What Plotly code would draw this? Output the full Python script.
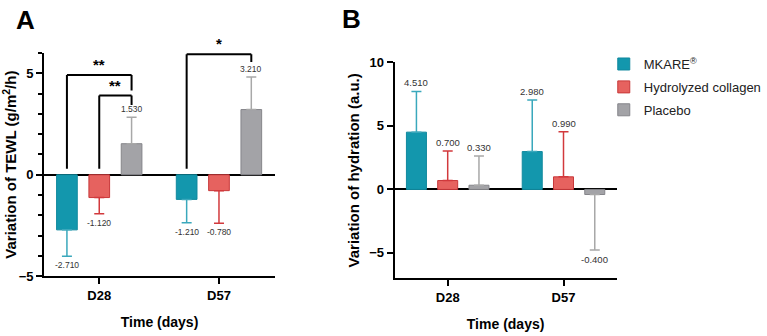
import plotly.graph_objects as go

# ---------------- data ----------------
categories = ["D28", "D57"]
series_names = ["MKARE<sup>®</sup>", "Hydrolyzed collagen", "Placebo"]

tewl_values = {
    "MKARE": [-2.71, -1.21],
    "Collagen": [-1.12, -0.78],
    "Placebo": [1.53, 3.21],
}
tewl_errors = {
    "MKARE": [1.30, 1.15],
    "Collagen": [0.80, 1.60],
    "Placebo": [1.30, 1.60],
}
hyd_values = {
    "MKARE": [4.51, 2.98],
    "Collagen": [0.70, 0.99],
    "Placebo": [0.33, -0.40],
}
hyd_errors = {
    "MKARE": [3.20, 4.07],
    "Collagen": [2.33, 3.56],
    "Placebo": [2.30, 4.37],
}
series_keys = ["MKARE", "Collagen", "Placebo"]

fill_colors = {"MKARE": "#1397ad", "Collagen": "#e6625f", "Placebo": "#a3a3a7"}
line_colors = {"MKARE": "#11899e", "Collagen": "#c8383a", "Placebo": "#85858a"}
err_colors = {"MKARE": "#3aa8bc", "Collagen": "#d2393c", "Placebo": "#a8a8a8"}

FONT = "Arial, Liberation Sans, sans-serif"
SLOT = 0.27  # offset between grouped bars in category units (bargap/bargroupgap)

fig = go.Figure()


def add_panel(values, errors, xa, ya, showlegend, label_size):
    for i, k in enumerate(series_keys):
        vals = values[k]
        errs = errors[k]
        plus = [e if v >= 0 else 0 for v, e in zip(vals, errs)]
        minus = [e if v < 0 else 0 for v, e in zip(vals, errs)]
        fig.add_trace(go.Bar(
            x=categories, y=vals, name=series_names[i], legendgroup=k,
            marker=dict(color=fill_colors[k], line=dict(color=line_colors[k], width=1)),
            error_y=dict(type="data", symmetric=False, array=plus, arrayminus=minus,
                         color=err_colors[k], thickness=1.5, width=5),
            xaxis=xa, yaxis=ya, showlegend=showlegend,
        ))
        for j, (v, e) in enumerate(zip(vals, errs)):
            xpos = j + (i - 1) * SLOT
            if v >= 0:
                fig.add_annotation(x=xpos, y=v + e, xref=xa, yref=ya, text=f"{v:.3f}",
                                   showarrow=False, yanchor="bottom", yshift=1,
                                   font=dict(family=FONT, size=label_size, color="#333333"))
            else:
                fig.add_annotation(x=xpos, y=v - e, xref=xa, yref=ya, text=f"{v:.3f}",
                                   showarrow=False, yanchor="top", yshift=-2,
                                   font=dict(family=FONT, size=label_size, color="#333333"))


add_panel(tewl_values, tewl_errors, "x", "y", True, 8.5)
add_panel(hyd_values, hyd_errors, "x2", "y2", False, 9.5)

# significance brackets (panel A): (group, from series, to series, top, left foot, right foot, text)
brackets = [
    (0, 0, 2, 4.91, 0.3, 4.15, "**"),
    (0, 1, 2, 3.90, 0.3, 3.44, "**"),
    (1, 0, 2, 5.93, 0.3, 5.55, "*"),
]
for g, s0, s1, top, lf, rf, txt in brackets:
    x0 = g + (s0 - 1) * SLOT
    x1 = g + (s1 - 1) * SLOT
    ln = dict(color="black", width=2)
    fig.add_shape(type="line", xref="x", yref="y", x0=x0, x1=x0, y0=lf, y1=top, line=ln)
    fig.add_shape(type="line", xref="x", yref="y", x0=x0, x1=x1, y0=top, y1=top, line=ln)
    fig.add_shape(type="line", xref="x", yref="y", x0=x1, x1=x1, y0=top, y1=rf, line=ln)
    fig.add_annotation(x=(x0 + x1) / 2, y=top, xref="x", yref="y", text=f"<b>{txt}</b>",
                       showarrow=False, yanchor="bottom", yshift=0,
                       font=dict(family=FONT, size=15, color="black"))

W, H = 767, 336

# panel letters
fig.add_annotation(x=14 / W, y=1 - 14 / H, xref="paper", yref="paper", text="<b>A</b>",
                   showarrow=False, xanchor="left", yanchor="middle",
                   font=dict(family=FONT, size=26, color="black"))
fig.add_annotation(x=346 / W, y=1 - 13 / H, xref="paper", yref="paper", text="<b>B</b>",
                   showarrow=False, xanchor="left", yanchor="middle",
                   font=dict(family=FONT, size=26, color="black"))

axis_common = dict(showline=True, linecolor="black", linewidth=2, ticks="outside",
                   tickwidth=2, ticklen=6, tickcolor="black", showgrid=False,
                   tickfont=dict(family=FONT, size=13, color="black", weight="bold"))

fig.update_layout(
    width=W, height=H, margin=dict(l=0, r=0, t=0, b=0),
    paper_bgcolor="white", plot_bgcolor="white",
    barmode="group", bargap=0.19, bargroupgap=0.36,
    font=dict(family=FONT, color="black"),
    legend=dict(x=615 / W, y=1 - 44 / H, xanchor="left", yanchor="top",
                font=dict(family=FONT, size=13, color="#222222"),
                bgcolor="rgba(0,0,0,0)", tracegroupgap=3),
    xaxis=dict(domain=[45 / W, 280 / W], anchor="y", range=[-0.46, 1.467],
               title=dict(text="<b>Time (days)</b>", font=dict(family=FONT, size=14), standoff=15),
               **axis_common),
    yaxis=dict(domain=[(H - 282) / H, (H - 48) / H], anchor="x", range=[-5, 6],
               tick0=0, dtick=5, zeroline=True, zerolinecolor="black", zerolinewidth=2,
               minor=dict(dtick=1, ticks="outside", ticklen=4, tickwidth=1.5, tickcolor="black"),
               title=dict(text="<b>Variation of TEWL (g/m<sup>2</sup>/h)</b>",
                          font=dict(family=FONT, size=15), standoff=6),
               **axis_common),
    xaxis2=dict(domain=[402 / W, 628 / W], anchor="y2", range=[-0.458, 1.458],
                title=dict(text="<b>Time (days)</b>", font=dict(family=FONT, size=14), standoff=15),
                **axis_common),
    yaxis2=dict(domain=[(H - 284) / H, (H - 58) / H], anchor="x2", range=[-7, 10],
                tick0=0, dtick=5, zeroline=True, zerolinecolor="black", zerolinewidth=2,
                title=dict(text="<b>Variation of hydration (a.u.)</b>",
                           font=dict(family=FONT, size=15), standoff=6),
                **axis_common),
)

fig.write_html("out.html")
